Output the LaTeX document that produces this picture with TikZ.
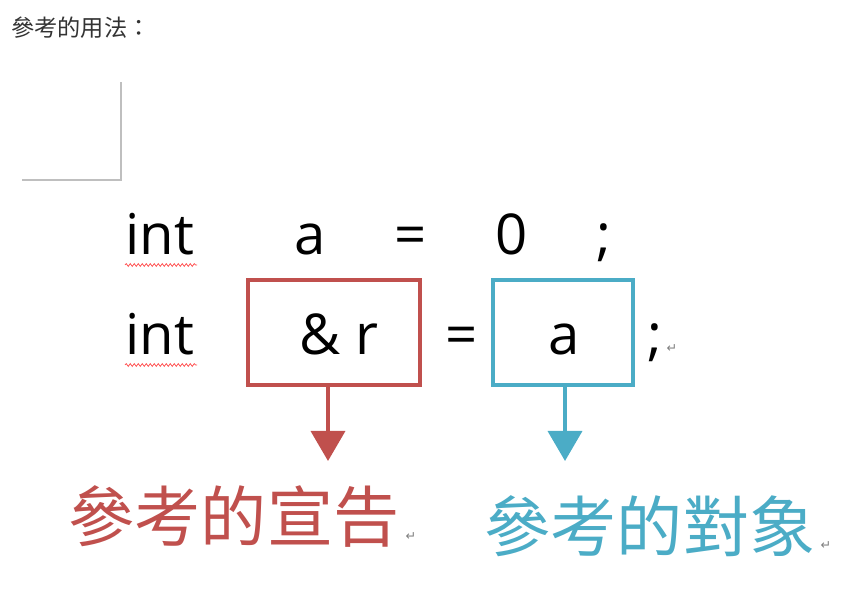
\documentclass[tikz,border=0pt]{standalone}
\usepackage{fontspec}
\usepackage{xcolor}
\usetikzlibrary{arrows.meta,positioning,decorations.pathmorphing}
\newfontfamily\cjk{Noto Sans CJK TC}
\newfontfamily\codefont{Open Sans}
\newfontfamily\symfont{DejaVu Sans}
\definecolor{declred}{HTML}{C0504D}
\definecolor{objblue}{HTML}{4BACC6}

\begin{document}
\begin{tikzpicture}[x=0.025cm, y=-0.025cm,
  code/.style={anchor=base, inner sep=0pt, font=\codefont\fontsize{40}{40}\selectfont},
  refbox/.style={rectangle, draw, line width=2.4pt, minimum height=2.625cm, inner sep=0pt},
  caption/.style={inner sep=0pt, font=\cjk\fontsize{47}{47}\selectfont},
  retmark/.style={inner sep=0pt, text=gray, font=\symfont\fontsize{9}{9}\selectfont},
  line/.style={draw, line width=2.6pt, -{Triangle[width=0.85cm, length=0.75cm]}},
  squiggle/.style={draw=red!70, line width=0.5pt, decorate, decoration={snake, segment length=0.1cm, amplitude=0.035cm}}]
  \useasboundingbox (0,0) rectangle (868,590);

  \node [anchor=west, inner sep=0pt, text=black!80, font=\cjk\fontsize{16.5}{16.5}\selectfont] (title) at (11,28) {參考的用法：};
  \draw [gray!50, line width=1pt] (22,180) -- (121,180) -- (121,82);

  % first line
  \node [code] (int1) at (160,255) {int};
  \node [code] (var1) at (310,255) {a};
  \node [code] (eq1) at (411,255) {=};
  \node [code] (zero) at (512,255) {0};
  \node [code] (semi1) at (604,255) {;};

  % second line
  \node [code] (int2) at (160,355) {int};
  \node [refbox, declred, minimum width=4.3cm] (decl) at (334,332.5) {};
  \node [code] (amp) at (339,355) {\& r};
  \node [code] (eq2) at (462,355) {=};
  \node [refbox, objblue, minimum width=3.5cm] (obj) at (563,332.5) {};
  \node [code] (var2) at (564,355) {a};
  \node [code] (semi2) at (655,355) {;};
  \node [retmark] (ret1) at (672,349) {↵};

  \draw [squiggle] (125,265) -- (197,265);
  \draw [squiggle] (125,365) -- (197,365);

  \coordinate (dtip) at (328,461);
  \coordinate (otip) at (565,461);
  \draw [line, declred] (decl.south -| dtip) -- (dtip);
  \draw [line, objblue] (obj.south -| otip) -- (otip);

  \node [caption, text=declred] (declcap) at (234,516) {參考的宣告};
  \node [caption, text=objblue] (objcap) at (650,526) {參考的對象};
  \node [retmark] (ret2) at (411,537) {↵};
  \node [retmark] (ret3) at (826,546) {↵};
\end{tikzpicture}
\end{document}
